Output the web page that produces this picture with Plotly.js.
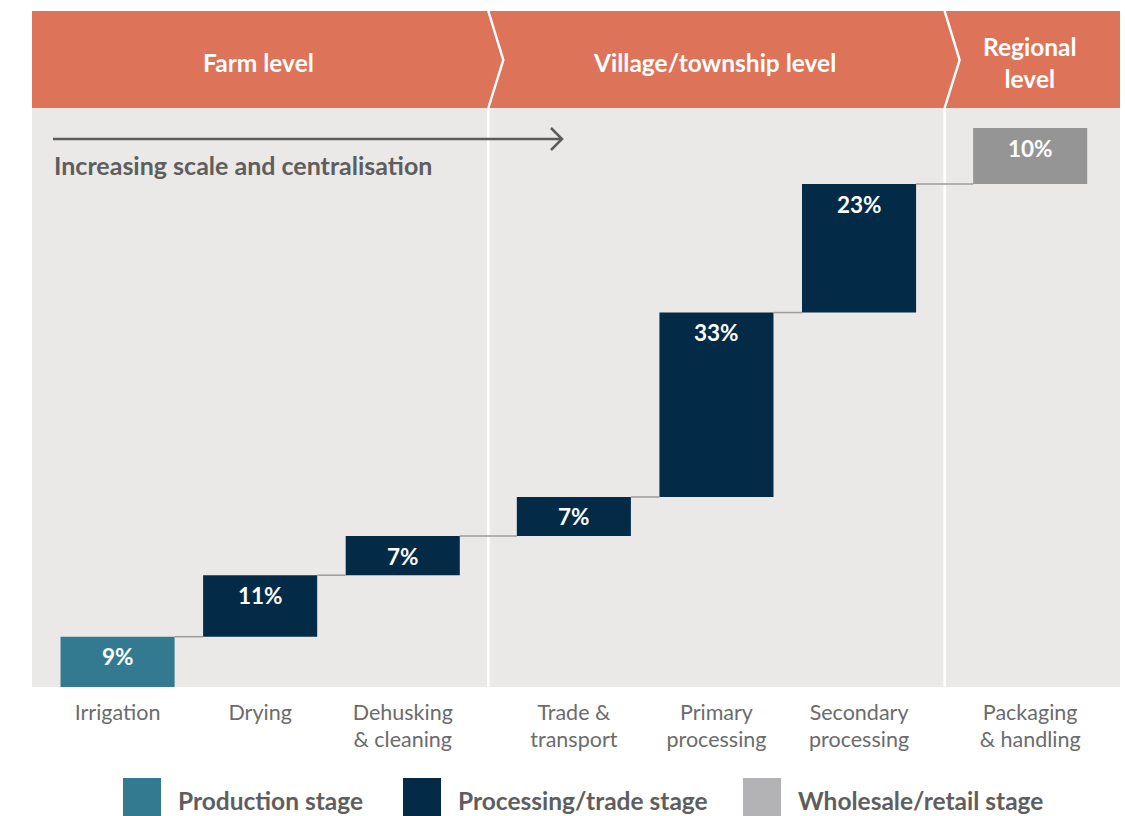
<!DOCTYPE html>
<html>
<head>
<meta charset="utf-8">
<script src="https://cdn.plot.ly/plotly-3.0.1.min.js"></script>
<style>html,body{margin:0;padding:0;background:#fff;}#chart{width:1125px;height:816px;}</style>
</head>
<body>
<div id="chart"></div>
<script>
// ---- data ----
const categories = ["Irrigation", "Drying", "Dehusking<br>& cleaning", "Trade &<br>transport", "Primary<br>processing", "Secondary<br>processing", "Packaging<br>& handling"];
const shares = [9, 11, 7, 7, 33, 23, 10];
const stageOfStep = ["Production stage", "Processing/trade stage", "Processing/trade stage", "Processing/trade stage", "Processing/trade stage", "Processing/trade stage", "Wholesale/retail stage"];
const levelOfStep = [0, 0, 0, 1, 1, 1, 2];
const levels = ["Farm level", "Village/township level", "Regional<br>level"];
const stages = ["Production stage", "Processing/trade stage", "Wholesale/retail stage"];
const stageBarColors = ["#337a91", "#032b47", "#959595"];
const stageLegendColors = ["#337a91", "#032b47", "#b3b3b5"];

// ---- layout helpers ----
const W = 1125, H = 816;
const mL = 32, mR = 5, mT = 108, mB = 129;
const plotW = W - mL - mR, plotH = H - mT - mB;
const groupGap = 0.2;
const xRange = [-0.6, 7.03];
const yRange = [0, 103.6];
const px2x = px => (px - mL) / plotW;
const py2y = py => (H - mB - py) / plotH;
const d2px = d => (d - xRange[0]) / (xRange[1] - xRange[0]);

const pos = categories.map((c, i) => i + groupGap * levelOfStep[i]);
const bases = [];
let run = 0;
shares.forEach(v => { bases.push(run); run += v; });

const font = "Lato, 'Open Sans', sans-serif";
const traces = [];
stages.forEach((s, k) => {
  const idx = stageOfStep.map((st, i) => st === s ? i : -1).filter(i => i >= 0);
  traces.push({
    type: "bar",
    name: s,
    x: idx.map(i => pos[i]),
    y: idx.map(i => shares[i]),
    base: idx.map(i => bases[i]),
    width: 0.8,
    marker: {color: stageBarColors[k], line: {width: 0}},
    showlegend: false,
    hoverinfo: "skip"
  });
});
// connectors
const cx = [], cy = [];
for (let i = 0; i < shares.length - 1; i++) {
  cx.push(pos[i] + 0.4, pos[i + 1] - 0.4, null);
  const t = bases[i] + shares[i];
  cy.push(t, t, null);
}
traces.push({type: "scatter", mode: "lines", x: cx, y: cy, line: {color: "#9b9b9b", width: 1.5}, showlegend: false, hoverinfo: "skip"});

const annotations = [];
shares.forEach((v, i) => {
  annotations.push({x: pos[i], y: bases[i] + v, xref: "x", yref: "y", text: "<b>" + v + "%</b>", showarrow: false,
    yanchor: "middle", yshift: -20, font: {family: font, size: 22.5, color: "#ffffff"}});
});

// level dividers (midpoints between groups)
const dividers = [];
for (let i = 0; i < pos.length - 1; i++) {
  if (levelOfStep[i] !== levelOfStep[i + 1]) dividers.push((pos[i] + pos[i + 1]) / 2);
}
const bounds = [xRange[0], ...dividers, xRange[1]];
const headerTop = py2y(11);
const shapes = [];
shapes.push({type: "rect", xref: "paper", yref: "paper", x0: 0, x1: 1, y0: 1, y1: headerTop, fillcolor: "#dd7359", line: {width: 0}, layer: "above"});
dividers.forEach(d => {
  const xp = d2px(d);
  const tip = xp + 15 / plotW;
  shapes.push({type: "path", xref: "paper", yref: "paper",
    path: `M ${xp} ${py2y(108)} L ${tip} ${py2y(60)} L ${xp} ${py2y(11)}`,
    line: {color: "#ffffff", width: 2.5}, layer: "above"});
  shapes.push({type: "line", xref: "paper", yref: "paper", x0: xp, x1: xp, y0: 0, y1: 1, line: {color: "#ffffff", width: 2.5}, layer: "below"});
});
levels.forEach((lv, k) => {
  const mid = (bounds[k] + bounds[k + 1]) / 2;
  annotations.push({x: mid, y: py2y(62), xref: "x", yref: "paper", xshift: -2, text: "<b>" + lv + "</b>", showarrow: false,
    yanchor: "middle", font: {family: font, size: 24.5, color: "#ffffff"}});
});
// arrow
shapes.push({type: "line", xref: "paper", yref: "paper", x0: px2x(53), x1: px2x(562), y0: py2y(139), y1: py2y(139), line: {color: "#5b5b5b", width: 2.5}});
shapes.push({type: "path", xref: "paper", yref: "paper", path: `M ${px2x(551)} ${py2y(128)} L ${px2x(562)} ${py2y(139)} L ${px2x(551)} ${py2y(150)}`, line: {color: "#5b5b5b", width: 2.5}});
annotations.push({x: px2x(52), y: py2y(165), xref: "paper", yref: "paper", xanchor: "left", yanchor: "middle", showarrow: false,
  text: "<b>Increasing scale and centralisation</b>", font: {family: font, size: 25, color: "#5e5e5e"}});

// legend
const legX = [123, 403, 743];
stages.forEach((s, k) => {
  shapes.push({type: "rect", xref: "paper", yref: "paper", x0: px2x(legX[k]), x1: px2x(legX[k] + 38), y0: py2y(778), y1: py2y(817), fillcolor: stageLegendColors[k], line: {width: 0}});
  annotations.push({x: px2x(legX[k] + 53), y: py2y(800), xref: "paper", yref: "paper", xanchor: "left", yanchor: "middle", showarrow: false,
    text: "<b>" + s + "</b>", font: {family: font, size: 24.5, color: "#5e5e5e"}});
});

const layout = {
  width: W, height: H,
  margin: {l: mL, r: mR, t: mT, b: mB},
  paper_bgcolor: "#ffffff", plot_bgcolor: "#ebe9e7",
  xaxis: {range: xRange, tickvals: pos, ticktext: categories, showgrid: false, zeroline: false, showline: false,
    ticks: "", ticklabelstandoff: 10, tickfont: {family: font, size: 21.5, color: "#6b6b6b"}, fixedrange: true},
  yaxis: {range: yRange, showgrid: false, zeroline: false, showticklabels: false, showline: false, fixedrange: true},
  barmode: "overlay",
  shapes: shapes,
  annotations: annotations,
  showlegend: false
};
Plotly.newPlot("chart", traces, layout, {displayModeBar: false, staticPlot: true});
</script>
</body>
</html>
